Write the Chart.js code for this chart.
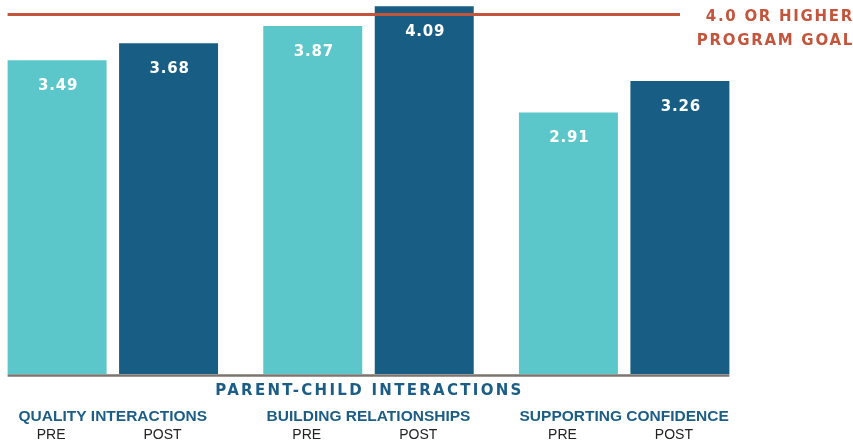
<!DOCTYPE html>
<html>
<head>
<meta charset="utf-8">
<script src="https://cdn.jsdelivr.net/npm/chart.js@4"></script>
<style>
    html, body { margin: 0; padding: 0; background: #fff; overflow: hidden; }
    #wrap { position: absolute; left: -15px; top: 0; width: 868px; height: 443px; }
</style>
</head>
<body>
<div id="wrap"><canvas id="chartCanvas"></canvas></div>
<script>
// Chart data
const GROUPS = ['QUALITY INTERACTIONS', 'BUILDING RELATIONSHIPS', 'SUPPORTING CONFIDENCE'];
const SERIES = ['PRE', 'POST'];
const PRE_VALUES = [3.49, 3.87, 2.91];
const POST_VALUES = [3.68, 4.09, 3.26];
const GOAL = 4.0;
const GOAL_TEXT = ['4.0 OR HIGHER', 'PROGRAM GOAL'];
const AXIS_TITLE = 'PARENT-CHILD INTERACTIONS';

const TEAL = '#5bc7cb';
const NAVY = '#175d84';
const RED = '#c4553d';
const GREY = '#7b756f';
const LABEL_BLUE = '#1c5d86';
const BOLD_WIDE = 'bold 15px "DejaVu Sans", Verdana, sans-serif';

// Draws goal line, baseline, value labels and extra texts
const overlayPlugin = {
    id: 'overlay',
    afterDatasetsDraw(chart) {
        const ctx = chart.ctx;
        const area = chart.chartArea;
        const yScale = chart.scales.y;

        let left = Infinity, right = -Infinity;
        chart.data.datasets.forEach((ds, i) => {
            chart.getDatasetMeta(i).data.forEach(bar => {
                left = Math.min(left, bar.x - bar.width / 2);
                right = Math.max(right, bar.x + bar.width / 2);
            });
        });

        ctx.save();

        // baseline
        ctx.strokeStyle = GREY;
        ctx.lineWidth = 2.5;
        ctx.beginPath();
        ctx.moveTo(left, area.bottom + 1.5);
        ctx.lineTo(right, area.bottom + 1.5);
        ctx.stroke();

        // goal line
        const gy = yScale.getPixelForValue(GOAL);
        ctx.strokeStyle = RED;
        ctx.lineWidth = 3;
        ctx.beginPath();
        ctx.moveTo(left, gy);
        ctx.lineTo(area.right - 72, gy);
        ctx.stroke();

        // goal text
        ctx.fillStyle = RED;
        ctx.font = BOLD_WIDE;
        ctx.letterSpacing = '1.7px';
        ctx.textAlign = 'right';
        ctx.textBaseline = 'middle';
        ctx.fillText(GOAL_TEXT[0], chart.width + 1, gy + 3);
        ctx.fillText(GOAL_TEXT[1], chart.width + 1, gy + 27);

        // value labels
        ctx.fillStyle = '#ffffff';
        ctx.font = BOLD_WIDE;
        ctx.letterSpacing = '0.8px';
        ctx.textAlign = 'center';
        chart.data.datasets.forEach((ds, i) => {
            chart.getDatasetMeta(i).data.forEach((bar, j) => {
                ctx.fillText(ds.data[j].toFixed(2), bar.x + 1, bar.y + 26);
            });
        });

        // axis title
        ctx.fillStyle = LABEL_BLUE;
        ctx.font = BOLD_WIDE;
        ctx.letterSpacing = '2.3px';
        ctx.fillText(AXIS_TITLE, (left + right) / 2 + 1, area.bottom + 17);

        // PRE / POST under each bar
        ctx.fillStyle = '#222222';
        ctx.font = '14px "Liberation Sans", Arial, sans-serif';
        ctx.letterSpacing = '0px';
        chart.data.datasets.forEach((ds, i) => {
            chart.getDatasetMeta(i).data.forEach(bar => {
                ctx.fillText(ds.label, bar.x - 6, area.bottom + 61);
            });
        });

        ctx.restore();
    },
};

function createChart() {
    const ctx = document.getElementById('chartCanvas');

    new Chart(ctx, {
        type: 'bar',
        data: {
            labels: GROUPS,
            datasets: [
                {
                    label: SERIES[0],
                    data: PRE_VALUES,
                    backgroundColor: TEAL,
                    borderWidth: 0,
                },
                {
                    label: SERIES[1],
                    data: POST_VALUES,
                    backgroundColor: NAVY,
                    borderWidth: 0,
                },
            ],
        },
        options: {
            responsive: true,
            maintainAspectRatio: false,
            animation: false,
            categoryPercentage: 0.872,
            barPercentage: 0.888,
            layout: {
                padding: { left: 0, right: 101, top: 0, bottom: 0 },
            },
            plugins: {
                legend: { display: false },
                tooltip: { enabled: false },
            },
            scales: {
                y: {
                    display: false,
                    min: 0,
                    max: 4.16,
                },
                x: {
                    grid: { display: false },
                    border: { display: false },
                    ticks: {
                        padding: 25,
                        color: LABEL_BLUE,
                        font: { family: '"Liberation Sans", Arial, sans-serif', size: 15.5, weight: 'bold' },
                    },
                    afterFit: function (scale) {
                        scale.height = 69;
                    },
                },
            },
        },
        plugins: [overlayPlugin],
    });
}

createChart();
</script>
</body>
</html>
